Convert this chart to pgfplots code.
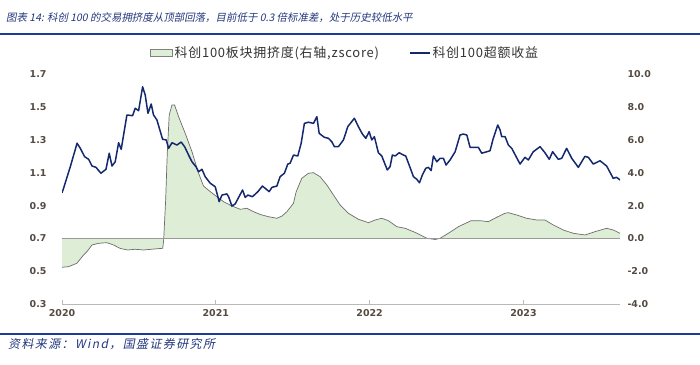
\documentclass[border=0pt]{standalone}
\usepackage{fontspec}
\setmainfont{DejaVu Sans}
\newfontfamily\cjk[LetterSpace=6]{Noto Sans CJK SC}
\newfontfamily\cjkit[FakeSlant=0.2]{Noto Sans CJK SC}
\newfontfamily\cjkitsp[FakeSlant=0.2, LetterSpace=12]{Noto Sans CJK SC}
\usepackage{pgfplots}
\pgfplotsset{compat=1.18}
\definecolor{navy}{RGB}{20,40,110}
\definecolor{areafill}{RGB}{222,237,214}
\definecolor{tickc}{RGB}{85,75,65}
\definecolor{rulec}{RGB}{30,60,150}
\definecolor{titlec}{RGB}{35,55,125}

\pgfplotstableread{
x r
0.000 -1.761
0.043 -1.724
0.097 -1.517
0.140 -1.012
0.162 -0.811
0.195 -0.402
0.238 -0.299
0.292 -0.262
0.335 -0.402
0.379 -0.615
0.428 -0.707
0.476 -0.664
0.530 -0.707
0.587 -0.658
0.655 -0.603
0.661 -0.097
0.674 2.340
0.684 5.082
0.697 7.520
0.715 8.129
0.732 8.129
0.758 7.416
0.801 6.405
0.845 5.283
0.888 3.967
0.920 3.193
0.964 2.846
1.007 2.541
1.050 2.237
1.105 1.974
1.159 1.773
1.202 1.834
1.245 1.627
1.289 1.456
1.342 1.322
1.397 1.225
1.431 1.365
1.462 1.627
1.505 2.139
1.522 2.828
1.559 3.662
1.602 3.967
1.635 4.004
1.678 3.760
1.722 3.254
1.765 2.645
1.808 2.036
1.862 1.530
1.927 1.164
1.992 0.957
2.036 1.121
2.079 1.225
2.122 1.079
2.177 0.713
2.231 0.616
2.285 0.408
2.317 0.268
2.372 0.006
2.426 -0.067
2.458 0.006
2.512 0.311
2.545 0.512
2.577 0.713
2.660 1.079
2.718 1.079
2.772 1.018
2.826 1.286
2.880 1.530
2.902 1.566
2.956 1.426
3.021 1.225
3.086 1.121
3.140 1.121
3.194 0.817
3.259 0.512
3.324 0.311
3.400 0.207
3.465 0.408
3.541 0.616
3.584 0.512
3.628 0.311
}\crowd

\pgfplotstableread{
x v
0.000 0.978
0.010 1.005
0.054 1.137
0.098 1.280
0.119 1.249
0.147 1.198
0.173 1.182
0.195 1.141
0.221 1.133
0.253 1.097
0.286 1.121
0.307 1.219
0.325 1.141
0.346 1.167
0.368 1.283
0.385 1.243
0.422 1.452
0.459 1.448
0.476 1.493
0.498 1.478
0.524 1.624
0.541 1.574
0.559 1.462
0.580 1.519
0.595 1.452
0.617 1.422
0.654 1.304
0.678 1.300
0.693 1.249
0.715 1.283
0.747 1.269
0.775 1.287
0.797 1.259
0.823 1.208
0.845 1.167
0.871 1.137
0.888 1.106
0.910 1.121
0.931 1.076
0.964 1.036
0.996 1.015
1.022 0.924
1.040 0.964
1.072 0.971
1.083 0.954
1.105 0.897
1.126 0.910
1.174 0.995
1.191 0.950
1.209 0.964
1.238 0.954
1.274 0.985
1.303 1.019
1.321 1.005
1.347 0.985
1.365 1.011
1.397 1.019
1.418 1.076
1.446 1.097
1.468 1.153
1.483 1.158
1.505 1.208
1.533 1.202
1.555 1.280
1.576 1.401
1.602 1.408
1.635 1.401
1.657 1.442
1.672 1.340
1.706 1.316
1.732 1.310
1.754 1.289
1.771 1.259
1.797 1.259
1.830 1.300
1.858 1.381
1.901 1.432
1.927 1.381
1.953 1.336
1.975 1.310
1.997 1.350
2.014 1.300
2.031 1.320
2.057 1.222
2.079 1.202
2.115 1.117
2.133 1.137
2.148 1.208
2.166 1.202
2.192 1.222
2.220 1.208
2.235 1.202
2.257 1.147
2.285 1.076
2.307 1.060
2.324 1.039
2.343 1.086
2.365 1.127
2.382 1.133
2.400 1.113
2.415 1.202
2.437 1.167
2.458 1.188
2.480 1.188
2.497 1.147
2.523 1.178
2.556 1.228
2.588 1.330
2.609 1.336
2.632 1.330
2.653 1.255
2.681 1.255
2.707 1.255
2.729 1.219
2.762 1.228
2.783 1.234
2.804 1.310
2.833 1.391
2.848 1.361
2.859 1.320
2.881 1.320
2.902 1.269
2.924 1.249
2.978 1.153
3.010 1.194
3.032 1.178
3.064 1.228
3.108 1.259
3.140 1.222
3.168 1.182
3.190 1.228
3.227 1.182
3.249 1.188
3.281 1.249
3.314 1.188
3.357 1.133
3.400 1.200
3.422 1.194
3.454 1.153
3.498 1.173
3.541 1.141
3.584 1.066
3.606 1.072
3.628 1.056
}\excess

\begin{document}
\begin{tikzpicture}[x=1bp,y=1bp]
\path[use as bounding box] (0,0) rectangle (700,-364);
\draw[rulec, line width=2bp] (0,-33.5) -- (700,-33.5);
\draw[rulec, line width=2bp] (0,-333.5) -- (700,-333.5);
\node[anchor=west, text=titlec, inner sep=0] at (6,-18) {\cjkit\fontsize{10.5}{12}\selectfont 图表 14: 科创 100 的交易拥挤度从顶部回落，目前低于 0.3 倍标准差，处于历史较低水平};
\node[anchor=west, text=titlec, inner sep=0] at (8,-344) {\cjkitsp\fontsize{12}{13}\selectfont 资料来源：Wind，国盛证券研究所};

\begin{axis}[at={(62bp,-304bp)}, anchor=south west, scale only axis,
  width=558bp, height=229.7bp,
  xmin=0, xmax=3.628, ymin=-4, ymax=10,
  hide x axis, axis y line*=right, y axis line style={draw=none},
  ytick={-4,-2,0,2,4,6,8,10}, ytick style={draw=none},
  yticklabel style={anchor=west, xshift=4bp, text=tickc, font=\bfseries\fontsize{9.5}{10}\selectfont,
    /pgf/number format/.cd, fixed, fixed zerofill, precision=1, assume math mode=true},
  legend style={at={(0.1577,1.0927)}, anchor=west, draw=none, fill=none, inner sep=0pt,
    font=\cjk\fontsize{13}{15}\selectfont, text=black!80,
    /tikz/every even column/.append style={column sep=28bp},
    cells={anchor=west, inner xsep=1bp}},
  legend columns=2,
]
\addplot[fill=areafill, draw=none, forget plot] table[x=x,y=r]{\crowd} \closedcycle;
\addplot[draw=gray!85!black, line width=0.7bp, forget plot] table[x=x,y=r]{\crowd};
\addplot[draw=gray!80, line width=1.6bp, forget plot] coordinates {(0,0) (3.628,0)};
\addlegendimage{legend image code/.code={\draw[fill=areafill, draw=gray] (0bp,-3.5bp) rectangle (22bp,3.5bp);}}
\addlegendimage{legend image code/.code={\draw[navy, line width=1.5bp] (0bp,0bp) -- (20bp,0bp);}}
\legend{{科创100板块拥挤度(右轴,zscore)}, {科创100超额收益}}
\end{axis}

\begin{axis}[at={(62bp,-304bp)}, anchor=south west, scale only axis,
  width=558bp, height=229.7bp,
  xmin=0, xmax=3.628, ymin=0.3, ymax=1.7,
  axis x line*=bottom, axis y line*=left,
  y axis line style={draw=none}, x axis line style={-, draw=gray!55, line width=0.8bp},
  ytick={0.3,0.5,0.7,0.9,1.1,1.3,1.5,1.7}, ytick style={draw=none},
  xtick={0,1,2,3}, xticklabels={2020,2021,2022,2023},
  xtick style={draw=gray!55, line width=0.8bp}, tick align=inside, major tick length=4bp,
  yticklabel style={anchor=east, xshift=-12bp, text=tickc, font=\bfseries\fontsize{9.5}{10}\selectfont,
    /pgf/number format/.cd, fixed, fixed zerofill, precision=1, assume math mode=true},
  xticklabel style={text=tickc, font=\bfseries\fontsize{9.5}{10}\selectfont, yshift=-2bp,
    /pgf/number format/.cd, assume math mode=true},
]
\addplot[navy, line width=1.5bp, line join=round] table[x=x,y=v]{\excess};
\end{axis}
\end{tikzpicture}
\end{document}
